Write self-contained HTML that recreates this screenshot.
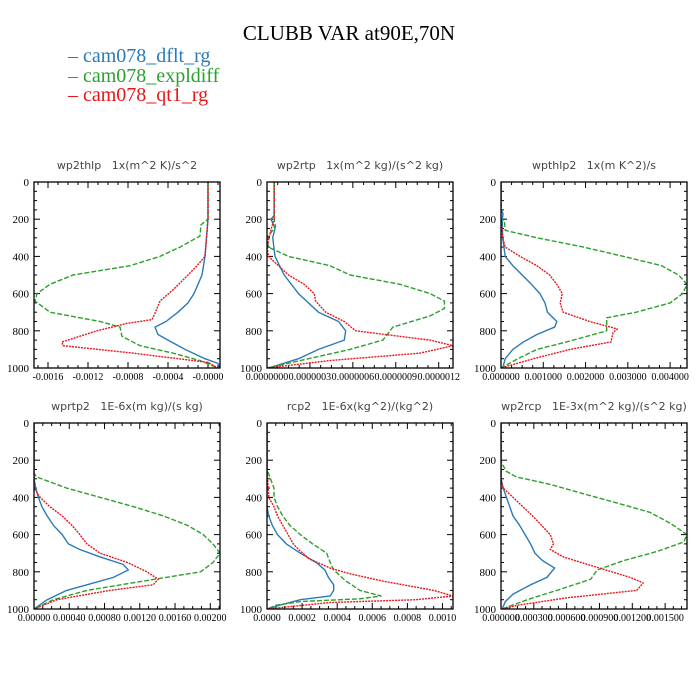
<!DOCTYPE html>
<html><head><meta charset="utf-8"><style>
body{margin:0;background:#fff;width:700px;height:700px;overflow:hidden}
svg{display:block}
.ser{font-family:"Liberation Serif",serif}
.mono{font-family:"DejaVu Sans","Liberation Sans",sans-serif;white-space:pre}
</style></head><body>
<svg id="chart" width="700" height="700" viewBox="0 0 700 700" xmlns="http://www.w3.org/2000/svg">
<rect width="700" height="700" fill="#fff"/>
<text class="ser" x="349" y="40" font-size="21" text-anchor="middle">CLUBB VAR at90E,70N</text>
<g class="ser" font-size="20">
<text x="68" y="62" fill="#2a7ab9">– cam078_dflt_rg</text>
<text x="68" y="82" fill="#2ca02c">– cam078_expldiff</text>
<text x="68" y="101" fill="#e8161b">– cam078_qt1_rg</text>
</g>
<g id="panels"></g>
</svg>
<script>
// Shared
const seriesNames = ["dflt","expldiff","qt1"];
const yTicks = [0,200,400,600,800,1000];
// Panel titles
const titles = ["wp2thlp   1x(m^2 K)/s^2","wp2rtp   1x(m^2 kg)/(s^2 kg)","wpthlp2   1x(m K^2)/s","wprtp2   1E-6x(m kg)/(s kg)","rcp2   1E-6x(kg^2)/(kg^2)","wp2rcp   1E-3x(m^2 kg)/(s^2 kg)"];
// X ranges
const xMins = [-0.00174,0,0,0,0,0];
const xMaxs = [0.00012,1.3e-6,0.0044,0.00211,0.00106,0.0017];
// X tick values and labels
const xTickVals = [[-0.0016,-0.0012,-0.0008,-0.0004,0],[0,3e-7,6e-7,9e-7,1.2e-6],[0,0.001,0.002,0.003,0.004],[0,0.0004,0.0008,0.0012,0.0016,0.002],[0,0.0002,0.0004,0.0006,0.0008,0.001],[0,0.0003,0.0006,0.0009,0.0012,0.0015]];
const xTickLabels = [["-0.0016","-0.0012","-0.0008","-0.0004","-0.0000"],["0.0000000","0.0000003","0.0000006","0.0000009","0.0000012"],["0.000000","0.001000","0.002000","0.003000","0.004000"],["0.00000","0.00040","0.00080","0.00120","0.00160","0.00200"],["0.0000","0.0002","0.0004","0.0006","0.0008","0.0010"],["0.000000","0.000300","0.000600","0.000900","0.001200","0.001500"]];

// Series data: [pressure, value]
const p1Blue=[[0,0],[200,0],[400,-0.00003],[500,-0.00006],[550,-0.0001],[600,-0.00014],[650,-0.0002],[700,-0.0003],[750,-0.00042],[780,-0.00053],[820,-0.0005],[850,-0.0004],[900,-0.00023],[950,-0.00003],[975,0.0001],[1000,0.00012]];
const p1Green=[[0,0],[200,0],[230,-0.00007],[290,-0.00008],[350,-0.00028],[400,-0.00048],[450,-0.00078],[500,-0.00135],[550,-0.00158],[600,-0.00171],[640,-0.00173],[700,-0.00158],[750,-0.00108],[780,-0.00088],[830,-0.00086],[880,-0.00068],[920,-0.00035],[960,-0.00008],[1000,0.0001]];
const p1Red=[[0,0],[200,0],[400,-0.00003],[450,-0.00011],[500,-0.0002],[580,-0.00035],[640,-0.00048],[680,-0.00051],[740,-0.00056],[760,-0.00081],[800,-0.00111],[860,-0.00146],[880,-0.00145],[920,-0.00075],[970,0],[1000,0.0001]];
const p2Blue=[[0,5e-8],[180,5e-8],[200,2.8e-8],[250,5.6e-8],[300,4e-8],[400,5.6e-8],[500,1.2e-7],[600,2.2e-7],[700,3.6e-7],[750,5e-7],[800,5.5e-7],[850,5.4e-7],[900,3.6e-7],[950,2.2e-7],[1000,1e-8]];
const p2Green=[[0,5e-8],[200,5e-8],[240,6e-8],[300,0],[350,1e-8],[400,1.5e-7],[450,4.4e-7],[500,5.8e-7],[550,9.3e-7],[600,1.14e-6],[640,1.24e-6],[680,1.24e-6],[720,1.14e-6],[780,8.8e-7],[850,8.1e-7],[900,5.8e-7],[950,2.9e-7],[1000,0]];
const p2Red=[[0,5e-8],[200,5e-8],[250,3e-8],[350,0],[400,1e-8],[450,8e-8],[500,1.5e-7],[550,2.6e-7],[600,3.3e-7],[640,3.4e-7],[700,4.1e-7],[750,5.4e-7],[800,6.2e-7],[850,1.14e-6],[880,1.3e-6],[920,1.07e-6],[960,4.4e-7],[1000,0]];
const p3Blue=[[0,0],[150,0],[170,0.00005],[200,0.00003],[300,0.00004],[400,0.0001],[450,0.00028],[500,0.0005],[550,0.00072],[600,0.00092],[650,0.00104],[700,0.0011],[750,0.00132],[780,0.00127],[820,0.00085],[860,0.00053],[900,0.00028],[950,0.0001],[1000,0.00004]];
const p3Green=[[0,0],[200,0],[210,0.00008],[260,0.0001],[300,0.00085],[350,0.00195],[400,0.0029],[450,0.0038],[500,0.0042],[550,0.0044],[600,0.0043],[650,0.004],[700,0.0032],[730,0.0025],[800,0.0025],[860,0.00155],[900,0.00085],[950,0.0004],[1000,0]];
const p3Red=[[0,0],[200,0],[300,0.00004],[350,0.0001],[400,0.00045],[450,0.00085],[500,0.00115],[550,0.00132],[600,0.00145],[650,0.0014],[700,0.00147],[750,0.0021],[790,0.00275],[810,0.00265],[860,0.0026],[900,0.00163],[950,0.00077],[1000,0]];
const p4Blue=[[0,0],[300,0],[350,0.00002],[400,0.00005],[450,0.00009],[500,0.00015],[550,0.00022],[600,0.00032],[650,0.00039],[680,0.00052],[720,0.00075],[760,0.00101],[790,0.00107],[830,0.0009],[870,0.0006],[900,0.00037],[950,0.00015],[1000,0]];
const p4Green=[[0,0],[270,0],[290,0.00003],[350,0.00037],[400,0.00075],[450,0.00113],[500,0.00147],[550,0.00174],[600,0.00192],[650,0.00203],[700,0.00211],[750,0.00203],[800,0.00189],[850,0.00124],[900,0.0006],[950,0.00022],[1000,0]];
const p4Red=[[0,0],[350,0],[400,0.00007],[450,0.00018],[500,0.00032],[550,0.00043],[600,0.00052],[650,0.0006],[700,0.00075],[750,0.00106],[800,0.00128],[840,0.00141],[870,0.00135],[900,0.00086],[950,0.00026],[1000,0]];
const p5Blue=[[0,0],[450,0],[500,0.00001],[550,0.00003],[600,0.00006],[650,0.00011],[700,0.00019],[750,0.00028],[790,0.00033],[830,0.00035],[870,0.00038],[900,0.00038],[930,0.00036],[950,0.00019],[980,0.00007],[1000,0]];
const p5Green=[[0,0],[250,0],[300,0.00002],[350,0.00004],[400,0.00004],[450,0.00006],[500,0.00009],[550,0.00013],[600,0.00019],[650,0.00026],[700,0.00034],[750,0.00036],[790,0.00038],[850,0.00045],[900,0.00053],[930,0.00065],[945,0.00053],[960,0.00019],[980,0.00005],[1000,0]];
const p5Red=[[0,0],[250,0],[400,0.00001],[450,0.00004],[500,0.00006],[550,0.00009],[600,0.00012],[650,0.00015],[680,0.00018],[730,0.00024],[780,0.00036],[810,0.00047],[850,0.00066],[900,0.00095],[930,0.00106],[950,0.00085],[965,0.00036],[1000,0]];
const p6Blue=[[0,0],[300,0],[350,0.00002],[400,0.00005],[450,0.00008],[500,0.00011],[550,0.00017],[600,0.00022],[650,0.00027],[700,0.00031],[740,0.00038],[780,0.00049],[830,0.00042],[870,0.00027],[920,0.00011],[960,0.00004],[1000,0.00001]];
const p6Green=[[0,0],[200,0],[220,0.00001],[260,0.00005],[290,0.00014],[330,0.00045],[380,0.00075],[430,0.00106],[480,0.00136],[540,0.00155],[600,0.0017],[640,0.00167],[690,0.00143],[740,0.00112],[790,0.00088],[840,0.00082],[900,0.00051],[950,0.00024],[1000,0.00001]];
const p6Red=[[0,0],[300,0],[350,0.00002],[400,0.00011],[450,0.0002],[500,0.00029],[550,0.00037],[600,0.00045],[650,0.00048],[680,0.00045],[720,0.00057],[780,0.0009],[830,0.00118],[860,0.0013],[900,0.00124],[940,0.0006],[980,0.00015],[1000,0.00001]];
const panelSeries=[[p1Blue,p1Green,p1Red],[p2Blue,p2Green,p2Red],[p3Blue,p3Green,p3Red],[p4Blue,p4Green,p4Red],[p5Blue,p5Green,p5Red],[p6Blue,p6Green,p6Red]];

const colors=["#2a7ab9","#2ca02c","#e8161b"];
const dashes=["","5,2","2,1"];
const NS="http://www.w3.org/2000/svg";
const lefts=[34,267,501], tops=[182,423], W=186, H=186;
const root=document.getElementById('panels');
function mk(tag,attrs,parent){const e=document.createElementNS(NS,tag);for(const k in attrs)e.setAttribute(k,attrs[k]);parent.appendChild(e);return e;}

for(let i=0;i<6;i++){
  const L=lefts[i%3], T=tops[Math.floor(i/3)];
  const g=mk('g',{},root);
  
  
  const xs=v=>L+(v-xMins[i])/(xMaxs[i]-xMins[i])*W;
  const ys=p=>T+p/1000*H;
  const t=mk('text',{x:L+W/2,y:T-13,'font-size':11,'text-anchor':'middle',class:'mono',fill:'#444'},g);
  t.textContent=titles[i];
  
  
  for(let p=0;p<=1000;p+=50){
    const y=ys(p), len=(p%200===0)?6:3;
    const a=mk('line',{x1:L,x2:L+len,y1:y,y2:y,stroke:'#000','stroke-width':1},g);
    
    
    const b=mk('line',{x1:L+W,x2:L+W-len,y1:y,y2:y,stroke:'#000','stroke-width':1},g);
    
    
  }
  yTicks.forEach(p=>{
    const tx=mk('text',{x:L-5,y:ys(p)+4,'font-size':11,'text-anchor':'end',class:'ser'},g);
    tx.textContent=p;
    
    
  });
  const tv=xTickVals[i], step=tv[1]-tv[0];
  for(let k=-10;k<=40;k++){
    const v=tv[0]+k*step/4;
    if(v<xMins[i]-1e-12||v>xMaxs[i]+1e-12)continue;
    const x=xs(v), len=(k%4===0)?6:3;
    const a=mk('line',{x1:x,x2:x,y1:T+H,y2:T+H-len,stroke:'#000','stroke-width':1},g);
    
    
    const b=mk('line',{x1:x,x2:x,y1:T,y2:T+len,stroke:'#000','stroke-width':1},g);
    
    
  }
  tv.forEach((v,j)=>{
    const tx=mk('text',{x:xs(v),y:T+H+12,'font-size':10,'text-anchor':'middle',class:'ser'},g);
    tx.textContent=xTickLabels[i][j];
    
    
  });
  const clipId='clip'+i;
  const cp=mk('clipPath',{id:clipId},g);
  mk('rect',{x:L,y:T,width:W,height:H},cp);
  panelSeries[i].forEach((s,j)=>{
    const d=s.map((pt,k)=>(k?'L':'M')+xs(pt[1]).toFixed(2)+' '+ys(pt[0]).toFixed(2)).join(' ');
    const path=mk('path',{d:d,fill:'none',stroke:colors[j],'stroke-width':1.4,'stroke-dasharray':dashes[j],'clip-path':'url(#'+clipId+')','stroke-linejoin':'round'},g);
    
    
  });
  const fr=mk('rect',{x:L,y:T,width:W,height:H,fill:'none',stroke:'#000','stroke-width':1.3},g);
  
  
}
</script>
</body></html>
